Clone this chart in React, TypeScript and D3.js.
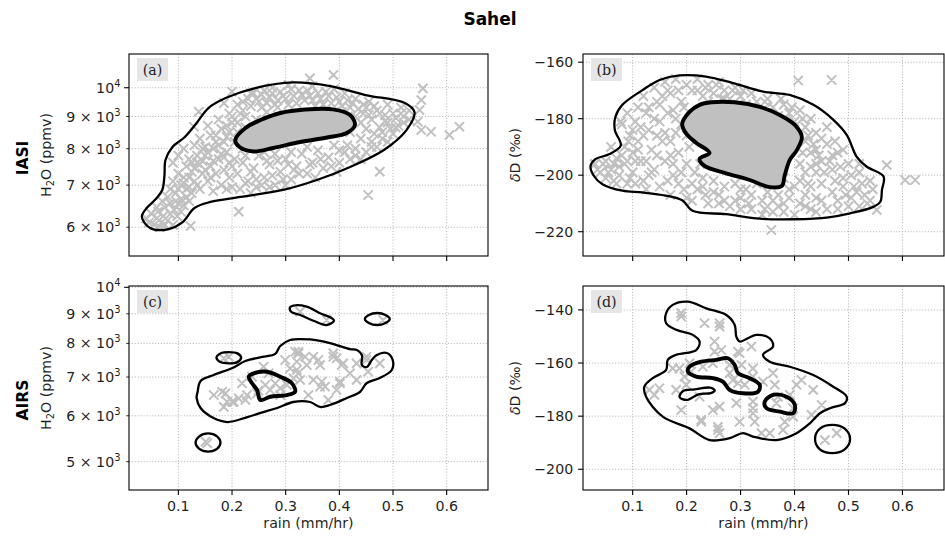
import React from 'react';
import * as d3 from 'd3';

type Pt = [number, number];

// ---------------- axes / labels ----------------
const title = 'Sahel';
const rowLabels = ['IASI', 'AIRS'];
const panelLetters = ['(a)', '(b)', '(c)', '(d)'];
const rainTicks = [0.1, 0.2, 0.3, 0.4, 0.5, 0.6];
const rainDomain = [0.008, 0.677];
const iasiH2OTicks = [6000, 7000, 8000, 9000, 10000];
const airsH2OTicks = [5000, 6000, 7000, 8000, 9000, 10000];
const iasiDDTicks = [-220, -200, -180, -160];
const airsDDTicks = [-200, -180, -160, -140];
const iasiH2ODomain = [5400, 11315];
const airsH2ODomain = [4467, 10052];
const iasiDDDomain = [-228.6, -157.1];
const airsDDDomain = [-207.8, -131.0];

// ---------------- (a) IASI H2O ----------------
const iasiH2OPoints: Pt[] = [
  [0.04,6200],[0.045,6100],[0.05,6300],[0.055,6050],[0.06,6200],[0.062,6350],[0.068,6100],[0.072,6250],[0.075,6450],[0.08,6150],
  [0.085,6300],[0.09,6050],[0.092,6400],[0.098,6250],[0.1,6550],[0.105,6350],[0.11,6500],[0.115,6700],[0.12,6600],[0.125,6800],
  [0.08,6700],[0.085,6900],[0.09,7100],[0.095,6800],[0.1,7300],[0.105,7000],[0.11,7200],[0.115,7500],[0.12,6950],[0.125,7350],
  [0.13,7100],[0.135,7600],[0.14,6900],[0.145,7300],[0.15,7800],[0.155,7100],[0.16,7500],[0.165,6850],[0.17,7300],[0.175,7700],
  [0.18,7000],[0.185,7400],[0.19,7900],[0.195,7200],[0.2,6950],[0.09,7600],[0.1,7800],[0.11,8000],[0.12,7700],[0.13,8100],
  [0.14,8300],[0.15,8050],[0.16,8400],[0.17,8200],[0.18,8600],[0.19,8350],[0.2,8800],[0.21,8500],[0.155,8700],[0.175,8900],
  [0.195,9100],[0.138,9160],[0.129,8670],[0.2,9855],[0.21,9400],[0.22,9200],[0.23,9600],[0.185,9450],
  [0.24,9800],[0.25,9500],[0.26,9900],[0.27,9650],[0.28,9400],[0.29,9850],[0.3,9600],[0.31,9950],[0.32,9450],[0.33,9750],
  [0.34,9900],[0.35,9550],[0.36,9800],[0.37,9400],[0.38,9700],[0.39,9950],[0.4,9500],[0.41,9800],[0.42,9300],[0.43,9600],
  [0.345,10350],[0.389,10480],[0.255,9300],[0.275,10000],[0.305,10100],[0.35,10050],
  [0.21,7300],[0.22,7600],[0.23,7100],[0.24,7450],[0.25,7800],[0.26,7200],[0.27,7550],[0.28,7000],[0.29,7350],[0.3,7700],
  [0.31,7150],[0.32,7500],[0.33,7850],[0.34,7300],[0.35,7600],[0.36,7950],[0.37,7450],[0.38,7750],[0.39,8100],[0.4,7600],
  [0.41,7900],[0.215,6900],[0.235,6800],[0.255,7000],[0.27,6950],[0.3,7000],[0.22,8000],[0.24,8150],[0.26,7900],[0.28,7850],
  [0.31,7900],[0.34,8050],[0.2124,6353],[0.2,7500],[0.225,7800],[0.175,8100],
  [0.43,8000],[0.44,8300],[0.45,8600],[0.46,8900],[0.47,9200],[0.48,8500],[0.49,8800],[0.5,9100],[0.51,8700],[0.52,9000],
  [0.44,8800],[0.45,9300],[0.46,8200],[0.47,8050],[0.48,8300],[0.49,9400],[0.505,8650],[0.43,9000],[0.42,8500],[0.415,8100],
  [0.53,9200],[0.53,8900],[0.455,9500],[0.5,8450],[0.515,9300],[0.475,8650],[0.44,7700],
  [0.5557,9978],[0.5527,9560],[0.5495,9216],[0.546,8830],[0.5527,8564],[0.571,8511],[0.605,8409],[0.6237,8670],[0.4753,7354],
  [0.4537,6752],[0.1228,6026],
  [0.25,8500],[0.3,8700],[0.35,8900],[0.4,8800],[0.28,8300],[0.33,8400],[0.38,8600],[0.23,8400],[0.42,8900],[0.36,9100],
  [0.145,7650],[0.165,8000],[0.185,7750],[0.205,8200],[0.225,8650],[0.245,8900],[0.265,9150],[0.285,9300],[0.235,9350],[0.33,9100],
  [0.375,9200],[0.405,9150],[0.445,9100],[0.465,8450],[0.485,9050],[0.395,7350],[0.355,7200],[0.315,7400],[0.285,7650],[0.245,7150],
  [0.075,6050],[0.07,6600],[0.105,6650],[0.135,7000],[0.19,6900],
  [0.06,6450],[0.065,6000],[0.085,6550],[0.095,6600],[0.1,6900],[0.11,7050],[0.115,6900],[0.12,7200],[0.125,7600],[0.13,7450],
  [0.135,7800],[0.14,7550],[0.145,8000],[0.15,7400],[0.155,7900],[0.16,7200],[0.165,7650],[0.17,8400],[0.18,7850],[0.185,8200],
  [0.19,8700],[0.195,8500],[0.2,9000],[0.21,8800],[0.215,9100],[0.22,9500],[0.225,9000],[0.235,9800],[0.245,9600],[0.255,9750],
  [0.265,9450],[0.275,9800],[0.285,9550],[0.295,9700],[0.305,9400],[0.315,9700],[0.325,9900],[0.335,9550],[0.345,9700],[0.355,9350],
  [0.365,9600],[0.375,9850],[0.385,9450],[0.395,9650],[0.405,9350],[0.415,9550],[0.425,9450],[0.435,9250],[0.445,9400],[0.455,9050],
  [0.465,9350],[0.475,9100],[0.485,8850],[0.495,8600],[0.505,8950],[0.515,9100],[0.52,8800],[0.49,8200],[0.46,8050],[0.45,7900],
  [0.43,7800],[0.42,7700],[0.4,7950],[0.385,7500],[0.365,7700],[0.345,7550],[0.325,7300],[0.305,7550],[0.295,7150],[0.275,7250],
  [0.265,7650],[0.235,7350],[0.225,7050],[0.245,6950],[0.205,7700],[0.195,7600],
];
const iasiH2OOuter: Pt[] = [
  [0.032,6252],[0.041,6438],[0.058,6653],[0.070,6877],[0.074,7237],[0.076,7674],[0.089,8050],[0.112,8349],[0.134,8788],
  [0.156,9284],[0.188,9630],[0.243,9990],[0.314,10200],[0.383,10062],[0.449,9736],[0.522,9455],[0.540,9149],[0.525,8564],
  [0.483,7963],[0.420,7482],[0.358,7133],[0.295,6877],[0.216,6703],[0.160,6582],[0.130,6438],[0.108,6115],[0.082,5960],
  [0.052,5960],[0.036,6115],
];
const iasiH2OInner: Pt[] = [
  [0.206,8258],[0.225,8628],[0.253,8885],[0.290,9116],[0.336,9232],[0.388,9240],[0.420,9049],[0.429,8724],[0.414,8472],
  [0.377,8333],[0.327,8197],[0.277,8020],[0.240,7919],[0.214,8050],
];

// ---------------- (b) IASI dD ----------------
const iasiDDPoints: Pt[] = [
  [0.03,-196],[0.04,-199],[0.05,-195],[0.05,-201],[0.06,-198],[0.065,-202],[0.07,-194],[0.075,-200],[0.085,-190],[0.085,-196],
  [0.09,-203],[0.095,-186],[0.1,-192],[0.1,-199],[0.105,-181],[0.11,-188],[0.115,-195],[0.12,-202],[0.125,-178],[0.13,-184],
  [0.135,-191],[0.14,-198],[0.145,-174],[0.15,-181],[0.155,-188],[0.16,-195],[0.165,-202],[0.17,-171],[0.175,-177],[0.18,-185],
  [0.185,-192],[0.19,-199],[0.195,-205],[0.2,-168],[0.08,-182],[0.09,-178],[0.11,-176],[0.12,-172],[0.14,-169],[0.16,-167],
  [0.18,-166],[0.078,-181],[0.092,-188],[0.125,-205],[0.15,-204],[0.17,-207],
  [0.21,-170],[0.22,-166],[0.23,-172],[0.24,-168],[0.25,-171],[0.26,-167],[0.27,-170],[0.28,-173],[0.29,-169],[0.3,-172],
  [0.31,-175],[0.32,-171],[0.33,-174],[0.34,-177],[0.35,-173],[0.36,-176],[0.37,-179],[0.38,-175],[0.39,-178],[0.4,-181],
  [0.41,-177],[0.42,-183],[0.4067,-166.5],[0.4688,-166.3],
  [0.42,-188],[0.43,-192],[0.44,-185],[0.45,-195],[0.46,-189],[0.47,-198],[0.48,-192],[0.49,-201],[0.5,-196],[0.51,-204],
  [0.52,-199],[0.53,-207],[0.54,-202],[0.54,-209],[0.545,-205],[0.43,-180],[0.44,-199],[0.45,-203],[0.46,-183],[0.475,-188],
  [0.49,-191],[0.52,-196],[0.571,-196.4],[0.605,-201.7],[0.6236,-201.7],[0.5524,-212.3],[0.357,-219.4],
  [0.2,-208],[0.22,-205],[0.24,-210],[0.26,-207],[0.28,-211],[0.3,-208],[0.32,-212],[0.34,-209],[0.36,-213],[0.38,-210],
  [0.4,-214],[0.42,-211],[0.44,-208],[0.46,-212],[0.48,-209],[0.5,-211],[0.25,-202],[0.27,-204],[0.29,-203],[0.31,-205],
  [0.33,-203],[0.35,-206],[0.37,-207],[0.39,-205],[0.41,-202],[0.43,-204],[0.41,-196],[0.42,-199],[0.43,-197],[0.44,-191],
  [0.215,-199],[0.23,-201],
  [0.25,-180],[0.3,-185],[0.35,-190],[0.28,-195],[0.33,-180],[0.37,-195],[0.26,-188],[0.32,-198],
  [0.06,-190],[0.075,-197],[0.095,-201],[0.105,-195],[0.115,-183],[0.13,-176],[0.135,-199],[0.145,-186],[0.155,-172],[0.165,-178],
  [0.17,-193],[0.175,-200],[0.185,-170],[0.19,-182],[0.2,-196],[0.21,-203],[0.225,-196],[0.235,-207],[0.26,-210],[0.29,-209],
  [0.315,-210],[0.345,-212],[0.37,-211],[0.39,-208],[0.41,-210],[0.43,-212],[0.45,-209],[0.47,-206],[0.49,-204],[0.47,-193],
  [0.45,-187],[0.44,-196],[0.415,-192],[0.425,-203],[0.505,-208],[0.52,-211],[0.3,-176],[0.27,-173],[0.24,-174],[0.195,-176],
  [0.205,-190],
  [0.035,-198],[0.045,-196],[0.055,-199],[0.065,-196],[0.07,-203],[0.08,-193],[0.09,-195],[0.1,-184],[0.105,-203],[0.11,-191],
  [0.12,-186],[0.125,-195],[0.13,-200],[0.14,-180],[0.145,-193],[0.15,-175],[0.16,-185],[0.165,-170],[0.17,-188],[0.175,-196],
  [0.18,-180],[0.185,-203],[0.19,-174],[0.2,-186],[0.21,-209],[0.22,-170],[0.235,-169],[0.255,-168],[0.265,-173],[0.285,-170],
  [0.295,-175],[0.305,-170],[0.325,-176],[0.345,-174],[0.355,-178],[0.375,-173],[0.385,-180],[0.395,-176],[0.415,-180],[0.425,-186],
  [0.435,-189],[0.445,-193],[0.455,-199],[0.465,-195],[0.475,-202],[0.485,-197],[0.495,-207],[0.505,-200],[0.515,-206],[0.525,-203],
  [0.535,-210],[0.48,-212],[0.44,-213],[0.38,-213],[0.34,-214],[0.3,-212],[0.27,-209],[0.25,-206],[0.23,-204],[0.42,-207],
  [0.4,-204],[0.38,-201],[0.36,-209],[0.32,-207],[0.3,-205],
];
const iasiDDOuter: Pt[] = [
  [0.022,-196.7],[0.031,-194.3],[0.056,-192.6],[0.078,-189.5],[0.067,-184.0],[0.068,-179.4],[0.081,-175.1],[0.119,-169.8],
  [0.150,-166.3],[0.187,-164.7],[0.236,-165.1],[0.286,-167.4],[0.342,-170.4],[0.391,-171.6],[0.435,-175.1],[0.472,-180.4],
  [0.497,-185.8],[0.515,-193.4],[0.534,-197.0],[0.565,-200.5],[0.562,-205.2],[0.559,-209.4],[0.546,-211.2],[0.503,-213.5],
  [0.463,-214.9],[0.401,-215.6],[0.336,-215.4],[0.273,-213.8],[0.211,-212.6],[0.192,-208.9],[0.161,-207.2],[0.118,-206.1],
  [0.081,-205.5],[0.044,-203.2],[0.028,-200.2],
];
const iasiDDInner: Pt[] = [
  [0.1918,-181.9],[0.2054,-177.6],[0.224,-175.1],[0.2463,-174.2],[0.289,-174.2],[0.3355,-175.8],[0.3727,-178.7],[0.4006,-182.2],
  [0.4136,-186.5],[0.4043,-191.1],[0.3913,-194.6],[0.382,-199.9],[0.3764,-203.8],[0.354,-204.2],[0.317,-201.7],[0.2703,-199.2],
  [0.2331,-196.7],[0.224,-194.2],[0.2425,-192.1],[0.218,-188.6],[0.1998,-185.4],
];

// ---------------- (c) AIRS H2O ----------------
const airsH2OPoints: Pt[] = [
  [0.1846,7542],[0.1506,5413],[0.166,6516],[0.1816,6601],[0.1909,6343],[0.1846,6216],[0.2032,6343],[0.2124,6430],[0.228,6516],
  [0.2187,6828],[0.2373,7008],[0.2588,7293],[0.2681,7104],[0.2805,6828],[0.2898,6692],[0.3022,6782],[0.3145,6963],[0.3083,7246],
  [0.3208,7440],[0.3238,7691],[0.3176,7740],[0.3362,7587],[0.3393,7341],[0.3516,7587],[0.364,7341],[0.3672,6871],[0.3733,6735],
  [0.3887,7587],[0.395,7542],[0.4072,7391],[0.4011,6871],[0.395,6648],[0.4197,7104],[0.4321,6918],[0.4507,7587],[0.4536,7149],
  [0.3794,6390],[0.3423,6516],[0.3516,6918],[0.323,7104],[0.1878,6560],[0.2002,6343],[0.2249,6390],[0.2466,6560],[0.262,6782],
  [0.2991,7490],[0.3238,7740],[0.3208,7199],[0.3269,6918],[0.3609,7490],[0.364,6735],[0.3887,7691],[0.4043,7341],[0.4011,6828],
  [0.4321,7391],[0.4507,7490],[0.4753,7391],[0.3269,9077],[0.3764,8781],[0.4815,8781],[0.1538,5379],[0.1939,7587],[0.249,6630],
  [0.271,6648],[0.29,6516],
];
const airsH2OOuter: Pt[][] = [
  [
    [0.1358,6595],[0.1414,6891],[0.1655,7057],[0.2007,7256],[0.2249,7461],[0.2564,7581],[0.2805,7673],[0.2898,7918],[0.3083,8110],
    [0.3454,8127],[0.3825,8013],[0.4197,7823],[0.4327,7794],[0.442,7640],[0.442,7341],[0.4512,7284],[0.4605,7490],[0.4698,7640],
    [0.4883,7701],[0.4994,7490],[0.4976,7199],[0.4753,6973],[0.4512,6836],[0.4383,6595],[0.414,6440],[0.3825,6263],[0.364,6214],
    [0.3454,6338],[0.3139,6338],[0.2842,6188],[0.2583,6090],[0.2286,5970],[0.1915,5853],[0.1655,5947],[0.1414,6188],[0.134,6440],
  ],
  [[0.171,7560],[0.180,7700],[0.194,7730],[0.210,7690],[0.217,7560],[0.209,7420],[0.194,7390],[0.178,7430]],
  [[0.308,9235],[0.3145,9300],[0.339,9260],[0.364,9018],[0.383,8875],[0.39,8756],[0.3765,8608],[0.3516,8756],[0.327,8958],[0.31,9077]],
  [[0.4475,8817],[0.455,8960],[0.4707,9028],[0.486,8960],[0.494,8817],[0.486,8680],[0.4707,8608],[0.455,8680]],
  [[0.132,5395],[0.139,5530],[0.1553,5594],[0.172,5530],[0.1785,5395],[0.172,5260],[0.1553,5205],[0.139,5260]],
];
const airsH2OInner: Pt[][] = [
  [[0.231,7008],[0.2403,7104],[0.2651,7149],[0.2898,7008],[0.3115,6828],[0.3176,6601],[0.3022,6515],[0.2712,6471],[0.2527,6390],[0.2466,6648],[0.2373,6828]],
];

// ---------------- (d) AIRS dD ----------------
const airsDDPoints: Pt[] = [
  [0.19,-141.2],[0.19,-142.5],[0.2333,-145.0],[0.2611,-145.0],[0.2611,-146.3],[0.2518,-151.9],[0.2518,-155.7],[0.2643,-155.1],
  [0.2983,-156.3],[0.2952,-155.7],[0.3201,-153.8],[0.3015,-160.7],[0.323,-162.0],[0.2797,-163.8],[0.2859,-166.4],[0.2952,-167.6],
  [0.3076,-168.2],[0.2797,-160.7],[0.2487,-160.1],[0.2301,-161.4],[0.2054,-160.1],[0.2085,-163.2],[0.1961,-165.1],[0.1868,-162.0],
  [0.1743,-162.0],[0.1993,-168.2],[0.1807,-170.1],[0.1496,-169.5],[0.131,-170.1],[0.1403,-172.0],[0.19,-177.7],[0.224,-172.7],
  [0.2271,-181.4],[0.2487,-177.7],[0.2611,-176.4],[0.2922,-175.1],[0.2983,-182.1],[0.323,-177.0],[0.323,-178.9],[0.3262,-182.1],
  [0.3387,-186.4],[0.3541,-186.4],[0.3788,-185.2],[0.382,-182.1],[0.3665,-175.1],[0.3695,-172.7],[0.3634,-168.2],[0.3602,-163.8],
  [0.3913,-172.0],[0.3974,-177.0],[0.3974,-180.2],[0.4037,-168.2],[0.413,-166.4],[0.4346,-170.1],[0.4502,-175.8],[0.4316,-179.5],
  [0.258,-184.0],[0.2611,-186.4],[0.2271,-182.1],[0.4563,-189.0],[0.4781,-186.4],[0.323,-165.1],[0.3416,-167.0],[0.323,-174.5],
  [0.258,-185.2],
];
const airsDDOuter: Pt[][] = [
  [
    [0.1621,-141.2],[0.1743,-138.1],[0.2022,-136.9],[0.2364,-139.4],[0.2736,-141.9],[0.289,-145.6],[0.2922,-150.1],[0.2983,-151.9],
    [0.3294,-149.4],[0.3541,-150.7],[0.3602,-153.8],[0.3416,-156.9],[0.3541,-159.5],[0.3913,-161.4],[0.4346,-164.5],[0.4717,-168.9],
    [0.4967,-172.7],[0.4936,-175.1],[0.4656,-177.0],[0.447,-178.9],[0.4284,-182.7],[0.4037,-186.4],[0.3665,-189.0],[0.323,-187.7],
    [0.3045,-186.4],[0.2797,-188.3],[0.2426,-189.0],[0.2054,-184.6],[0.1558,-180.2],[0.1249,-172.7],[0.1217,-168.9],[0.1372,-165.7],
    [0.1621,-162.6],[0.1651,-158.8],[0.1807,-156.9],[0.2178,-155.1],[0.224,-151.9],[0.2115,-149.4],[0.1807,-147.5],[0.1621,-145.0],
  ],
  [[0.438,-188.6],[0.447,-184.7],[0.4703,-183.3],[0.493,-184.7],[0.503,-188.6],[0.493,-192.5],[0.4703,-193.9],[0.447,-192.5]],
  [[0.187,-172.8],[0.193,-170.6],[0.215,-169.9],[0.245,-169.3],[0.252,-170.4],[0.245,-171.3],[0.222,-171.8],[0.200,-173.9]],
];
const airsDDInner: Pt[][] = [
  [[0.2022,-163.2],[0.2054,-161.4],[0.2271,-159.5],[0.255,-158.8],[0.2766,-158.2],[0.289,-160.7],[0.2952,-163.8],[0.3169,-165.7],
   [0.3355,-168.2],[0.3323,-170.8],[0.3045,-171.4],[0.2797,-170.1],[0.2673,-167.0],[0.2487,-165.7],[0.2178,-165.1]],
  [[0.3448,-174.5],[0.3602,-172.0],[0.3851,-172.7],[0.4006,-175.8],[0.3974,-178.9],[0.3727,-178.3],[0.348,-177.0]],
];

// ---------------- rendering ----------------
const FONT = 'DejaVu Sans, Verdana, sans-serif';
const SERIF = 'DejaVu Serif, serif';
const FS = 14.2;
const INK = '#1f1f1f';
const MARK = '#c0c0c0';

function fmtDD(v: number) {
  return v < 0 ? '\u2212' + Math.abs(v) : String(v);
}

function LogLabel({ v, x, y }: { v: number; x: number; y: number }) {
  const e = Math.floor(Math.log10(v) + 1e-9);
  const m = Math.round(v / Math.pow(10, e));
  return (
    <text x={x} y={y} textAnchor="end" fontFamily={FONT} fontSize={FS} fill={INK}>
      <tspan>{m === 1 ? '10' : `${m} \u00d7 10`}</tspan>
      <tspan dy={-6} fontSize={FS * 0.7}>{e}</tspan>
    </text>
  );
}

function Panel(props: any) {
  const { letter, box, log, yDomain, yTicks, points, outer, inner, fillInner, xLabels, ylabel } = props;
  const [left, top, right, bottom] = box;
  const x = d3.scaleLinear().domain(rainDomain).range([left, right]);
  const y = (log ? d3.scaleLog() : d3.scaleLinear()).domain(yDomain).range([bottom, top]);
  const line = d3
    .line<Pt>()
    .x((d) => x(d[0]))
    .y((d) => y(d[1]))
    .curve(d3.curveCatmullRomClosed.alpha(0.5));
  const clipId = 'clip' + letter.replace(/\W/g, '');
  const r = 4.6;
  const markPath = points
    .map(([a, b]: Pt) => {
      const px = x(a), py = y(b);
      return `M${px - r},${py - r}L${px + r},${py + r}M${px - r},${py + r}L${px + r},${py - r}`;
    })
    .join('');
  const cy = (top + bottom) / 2;
  const cx = (left + right) / 2;
  return (
    <g>
      <defs>
        <clipPath id={clipId}>
          <rect x={left} y={top} width={right - left} height={bottom - top} />
        </clipPath>
      </defs>
      <g stroke="#b0b0b0" strokeWidth={0.9} strokeDasharray="1.1,1.8">
        {rainTicks.map((t) => (
          <line key={'gx' + t} x1={x(t)} x2={x(t)} y1={top} y2={bottom} />
        ))}
        {yTicks.map((t: number) => (
          <line key={'gy' + t} x1={left} x2={right} y1={y(t)} y2={y(t)} />
        ))}
      </g>
      <g clipPath={`url(#${clipId})`}>
        {fillInner && inner.map((ring: Pt[], i: number) => <path key={'f' + i} d={line(ring) || ''} fill={MARK} stroke="none" />)}
        <path d={markPath} stroke={MARK} strokeWidth={2} fill="none" />
        {outer.map((ring: Pt[], i: number) => (
          <path key={'o' + i} d={line(ring) || ''} fill="none" stroke="#000" strokeWidth={2.3} strokeLinejoin="round" />
        ))}
        {inner.map((ring: Pt[], i: number) => (
          <path key={'i' + i} d={line(ring) || ''} fill="none" stroke="#000" strokeWidth={3.9} strokeLinejoin="round" />
        ))}
      </g>
      <rect x={left + 8} y={top + 4} width={31} height={23} fill="#e6e6e6" />
      <text x={left + 23.5} y={top + 20.5} textAnchor="middle" fontFamily={SERIF} fontSize={FS} fill={INK}>
        {letter}
      </text>
      <rect x={left} y={top} width={right - left} height={bottom - top} fill="none" stroke="#000" strokeWidth={1.1} />
      {rainTicks.map((t) => (
        <g key={'xt' + t}>
          <line x1={x(t)} x2={x(t)} y1={bottom} y2={bottom + 4.9} stroke="#000" strokeWidth={1.1} />
          {xLabels && (
            <text x={x(t)} y={bottom + 21} textAnchor="middle" fontFamily={FONT} fontSize={FS} fill={INK}>
              {t.toFixed(1)}
            </text>
          )}
        </g>
      ))}
      {yTicks.map((t: number) => {
        const major = !log || Math.abs(Math.log10(t) - Math.round(Math.log10(t))) < 1e-9;
        const len = major ? 4.9 : 2.8;
        return (
          <g key={'yt' + t}>
            <line x1={left - len} x2={left} y1={y(t)} y2={y(t)} stroke="#000" strokeWidth={major ? 1.1 : 0.8} />
            {log ? (
              <LogLabel v={t} x={left - 8.5} y={y(t) + 5} />
            ) : (
              <text x={left - 9.8} y={y(t) + 5} textAnchor="end" fontFamily={FONT} fontSize={FS} fill={INK}>
                {fmtDD(t)}
              </text>
            )}
          </g>
        );
      })}
      {xLabels && (
        <text x={cx} y={528} textAnchor="middle" fontFamily={FONT} fontSize={FS} fill={INK}>
          rain (mm/hr)
        </text>
      )}
      {ylabel === 'h2o' ? (
        <text transform={`translate(${left - 78},${cy}) rotate(-90)`} textAnchor="middle" fontFamily={FONT} fontSize={FS} fill={INK}>
          H<tspan dy={3} fontSize={FS * 0.7}>2</tspan>
          <tspan dy={-3}>O (ppmv)</tspan>
        </text>
      ) : (
        <text transform={`translate(${left - 63},${cy}) rotate(-90)`} textAnchor="middle" fontFamily={FONT} fontSize={FS} fill={INK}>
          <tspan fontStyle="italic">δ</tspan>D (‰)
        </text>
      )}
    </g>
  );
}

export default function App() {
  const specs = [
    { letter: panelLetters[0], box: [129, 54, 488, 256], log: true, yDomain: iasiH2ODomain, yTicks: iasiH2OTicks, points: iasiH2OPoints, outer: [iasiH2OOuter], inner: [iasiH2OInner], fillInner: true, xLabels: false, ylabel: 'h2o' },
    { letter: panelLetters[1], box: [583, 54, 944, 256], log: false, yDomain: iasiDDDomain, yTicks: iasiDDTicks, points: iasiDDPoints, outer: [iasiDDOuter], inner: [iasiDDInner], fillInner: true, xLabels: false, ylabel: 'dd' },
    { letter: panelLetters[2], box: [129, 286, 488, 490], log: true, yDomain: airsH2ODomain, yTicks: airsH2OTicks, points: airsH2OPoints, outer: airsH2OOuter, inner: airsH2OInner, fillInner: false, xLabels: true, ylabel: 'h2o' },
    { letter: panelLetters[3], box: [583, 286, 944, 490], log: false, yDomain: airsDDDomain, yTicks: airsDDTicks, points: airsDDPoints, outer: airsDDOuter, inner: airsDDInner, fillInner: false, xLabels: true, ylabel: 'dd' },
  ];
  return (
    <svg width={945} height={540} style={{ position: 'absolute', left: 0, top: 0, display: 'block' }} xmlns="http://www.w3.org/2000/svg">
      <rect width={945} height={540} fill="#fff" />
      <text x={490} y={25} textAnchor="middle" fontFamily={FONT} fontWeight="bold" fontSize={17} fill="#000">
        {title}
      </text>
      <text transform="translate(28,158) rotate(-90)" textAnchor="middle" fontFamily={FONT} fontWeight="bold" fontSize={15.5} fill="#000">
        {rowLabels[0]}
      </text>
      <text transform="translate(28,400) rotate(-90)" textAnchor="middle" fontFamily={FONT} fontWeight="bold" fontSize={15.5} fill="#000">
        {rowLabels[1]}
      </text>
      {specs.map((s) => (
        <Panel key={s.letter} {...s} />
      ))}
    </svg>
  );
}
